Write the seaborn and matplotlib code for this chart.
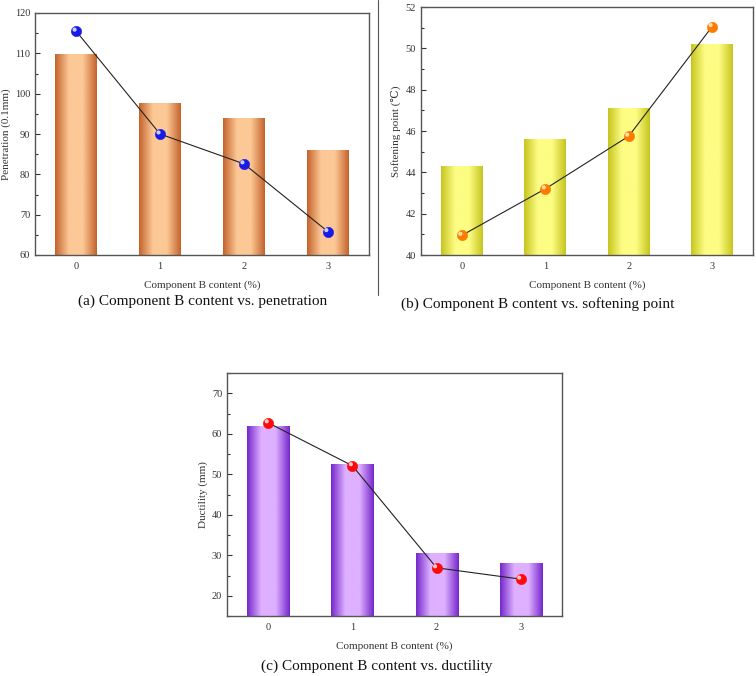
import matplotlib
matplotlib.use("Agg")
import matplotlib.pyplot as plt
import matplotlib.transforms as mtransforms
from matplotlib.colors import LinearSegmentedColormap
from matplotlib.ticker import MultipleLocator
from matplotlib.lines import Line2D
import numpy as np
import seaborn as sns

########################################
# Data

contents = ["0", "1", "2", "3"]

penetration_bars = [109.8, 97.5, 93.9, 85.8]
penetration_points = [115.5, 90.0, 82.6, 65.8]

softening_bars = [44.3, 45.6, 47.1, 50.2]
softening_points = [40.95, 43.2, 45.75, 51.05]

ductility_bars = [61.7, 52.4, 30.4, 27.9]
ductility_points = [62.7, 52.1, 26.9, 24.1]

xlabel = "Component B content (%)"

########################################
# Style

sns.set_theme(style="ticks")
plt.rcParams["font.family"] = ["Liberation Serif", "DejaVu Serif"]
plt.rcParams["mathtext.fontset"] = "stix"

W, H = 756, 676
fig = plt.figure(figsize=(W / 100, H / 100), dpi=100)


def px_axes(left, right, top, bottom):
    return fig.add_axes([left / W, 1 - bottom / H, (right - left) / W, (bottom - top) / H])


def gradient_bars(ax, edge, center, ybottom):
    # shade each seaborn bar with a horizontal dark-light-dark gradient
    cmap = LinearSegmentedColormap.from_list("g", [edge, center, center, edge], N=256)
    grad = np.linspace(0, 1, 256).reshape(1, -1)
    for patch in list(ax.patches):
        x0, w, h = patch.get_x(), patch.get_width(), patch.get_height()
        ax.imshow(grad, cmap=cmap, aspect="auto", extent=[x0, x0 + w, ybottom, h],
                  zorder=2, interpolation="bilinear")
        patch.set_visible(False)


def panel(ax, bars, points, edge, center, marker_color, hi_color, ylim, major, minor, ylabel):
    sns.barplot(x=contents, y=bars, width=0.5, ax=ax, color=center, zorder=2)
    gradient_bars(ax, edge, center, ylim[0])
    pos = np.arange(len(contents))
    ax.plot(pos, points, color="#222222", lw=0.8, zorder=3)
    sns.scatterplot(x=pos, y=points, ax=ax, s=55, color=marker_color,
                    edgecolor=marker_color, linewidth=0.4, zorder=4, legend=False)
    hl = mtransforms.offset_copy(ax.transData, fig=fig, x=-1.1, y=1.1, units="points")
    ax.scatter(pos, points, s=9, color=hi_color, edgecolor="none", zorder=5, transform=hl)
    ax.set_xlim(-0.49, 3.49)
    ax.set_ylim(*ylim)
    ax.set_xticks(pos, contents)
    ax.yaxis.set_major_locator(MultipleLocator(major))
    ax.yaxis.set_minor_locator(MultipleLocator(minor))
    ax.tick_params(axis="both", which="both", direction="in", labelsize=7.5,
                   color="#333333", labelcolor="#333333")
    ax.tick_params(axis="y", which="major", length=3.5, width=0.8)
    ax.tick_params(axis="y", which="minor", length=2, width=0.8)
    ax.tick_params(axis="x", length=3, width=0.8, pad=5)
    for s in ax.spines.values():
        s.set_visible(True)
        s.set_color("#555555")
        s.set_linewidth(1.0)
        s.set_zorder(6)
    ax.set_xlabel(xlabel, fontsize=8, color="#333333", labelpad=7)
    ax.set_ylabel(ylabel, fontsize=8, color="#333333", labelpad=3)


ax_a = px_axes(35, 369, 13, 255)
panel(ax_a, penetration_bars, penetration_points, "#c4622a", "#fcc896",
      "#1a1ae6", "#c8d0ff", (60, 120), 10, 5, "Penetration (0.1mm)")

ax_b = px_axes(421, 753, 7, 255)
panel(ax_b, softening_bars, softening_points, "#c6c51e", "#fdfd84",
      "#ff7a00", "#ffe0b0", (40, 52), 2, 1, "Softening point (\u2103)")

ax_c = px_axes(227, 562, 373, 616)
panel(ax_c, ductility_bars, ductility_points, "#7426cc", "#deb0ff",
      "#ff0a0a", "#ffc8c8", (15, 75), 10, 5, "Ductility (mm)")

# captions
fig.text(203 / W, 1 - 301 / H, "(a) Component B content vs. penetration",
         fontsize=11, ha="center", va="center", color="#111111")
fig.text(538 / W, 1 - 304 / H, "(b) Component B content vs. softening point",
         fontsize=11, ha="center", va="center", color="#111111")
fig.text(377 / W, 1 - 666 / H, "(c) Component B content vs. ductility",
         fontsize=11, ha="center", va="center", color="#111111")

# separator line between the top panels
fig.add_artist(Line2D([378 / W, 378 / W], [1, 1 - 295 / H], color="#555555", lw=0.8))

fig.savefig("out.png", dpi=100)
